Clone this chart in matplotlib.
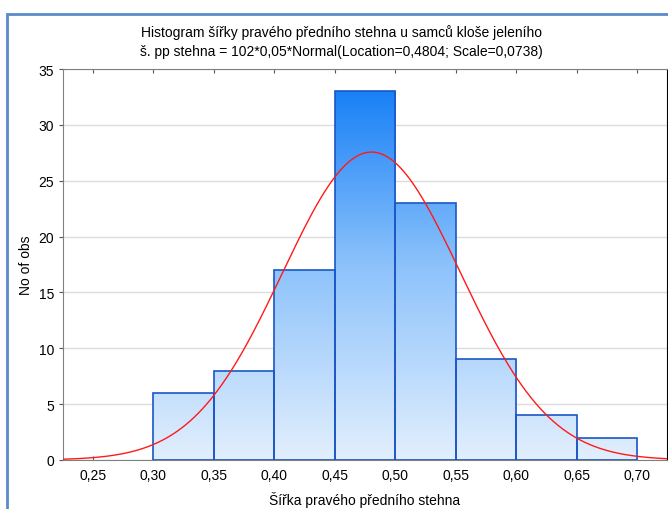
import numpy as np
import matplotlib
matplotlib.use("Agg")
import matplotlib.pyplot as plt
from matplotlib.patches import Rectangle

plt.rcParams['font.family'] = ['Liberation Sans', 'DejaVu Sans']

## Data
bin_left = [0.30, 0.35, 0.40, 0.45, 0.50, 0.55, 0.60, 0.65]
counts = [6, 8, 17, 33, 23, 9, 4, 2]
bin_width = 0.05
n_obs = 102
loc = 0.4804
scale = 0.0738
x_ticks = [0.25, 0.30, 0.35, 0.40, 0.45, 0.50, 0.55, 0.60, 0.65, 0.70]
y_ticks = [0, 5, 10, 15, 20, 25, 30, 35]

fig = plt.figure(figsize=(6.68, 5.10), dpi=100)
ax = fig.add_axes([0.0943, 0.0961, 0.9042, 0.7666])

## blue frame round the chart
fig.patches.append(Rectangle((7/668, -0.1), 1.2, 1 - 15/510 + 0.1, transform=fig.transFigure,
                             fill=False, edgecolor='#5b8bc9', linewidth=2))

## bars with vertical gradient (by absolute height)
grad = np.linspace(0, 1, 256).reshape(-1, 1)
cmap = matplotlib.colors.LinearSegmentedColormap.from_list(
    'g', ['#e2effd', '#8cc2fb', '#0a78f6'])
bars = ax.bar(bin_left, counts, width=bin_width, align='edge',
              facecolor='none', edgecolor='#1a56c6', linewidth=1.2, zorder=3)
for b, x0 in zip(bars, bin_left):
    im = ax.imshow(grad, cmap=cmap, origin='lower', aspect='auto',
                   extent=[x0, x0 + bin_width, 0, 35], zorder=2)
    im.set_clip_path(b)
ax.set_xlim(0.2252, 0.7248)
ax.set_ylim(0, 35)

## fitted normal curve from the title
xs = np.linspace(0.2252, 0.7248, 400)
ys = n_obs * bin_width * np.exp(-0.5 * ((xs - loc) / scale) ** 2) / (scale * np.sqrt(2 * np.pi))
ax.plot(xs, ys, color='#ff1a1a', linewidth=1, zorder=4)

ax.set_xticks(x_ticks)
ax.set_xticklabels([('%.2f' % v).replace('.', ',') for v in x_ticks], fontsize=10)
ax.set_yticks(y_ticks)
ax.set_yticklabels([str(v) for v in y_ticks], fontsize=10)
ax.tick_params(axis='x', direction='in', top=True, length=3, color='#555555', pad=6)
ax.tick_params(axis='y', direction='out', length=3, color='#555555')
ax.yaxis.grid(True, color='#dcdcdc', linewidth=1)
ax.set_axisbelow(True)

for s in ['left', 'bottom', 'top']:
    ax.spines[s].set_color('#808080')
ax.spines['right'].set_color('#000000')

ax.set_xlabel('Šířka pravého předního stehna', fontsize=10, labelpad=6)
ax.set_ylabel('No of obs', fontsize=10, labelpad=4)
fig.text(0.511, 1 - 33/510, 'Histogram šířky pravého předního stehna u samců kloše jeleního',
         ha='center', va='center', fontsize=10)
fig.text(0.511, 1 - 52/510, 'š. pp stehna = 102*0,05*Normal(Location=0,4804; Scale=0,0738)',
         ha='center', va='center', fontsize=10)

fig.savefig('out.png', dpi=100)
